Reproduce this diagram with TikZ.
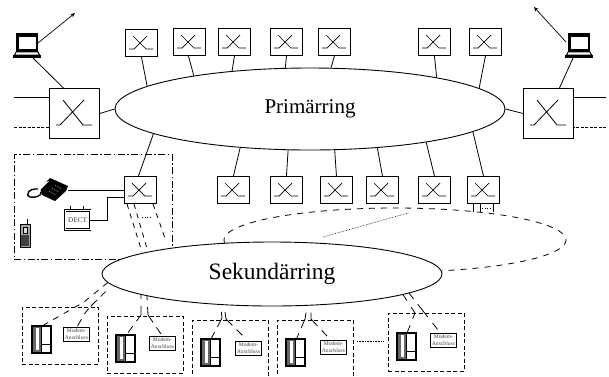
\documentclass[tikz,border=0pt]{standalone}
\usepackage{fontspec}
\setmainfont{Liberation Serif}
\usetikzlibrary{shapes.geometric,arrows.meta}
\tikzset{x=1pt,y=-1pt,
 ring/.style={draw,ellipse,fill=white,line width=0.9pt,inner sep=0pt,minimum width=#1},
 swbox/.style={draw,line width=0.9pt,minimum width=32pt,minimum height=27pt,inner sep=0pt,anchor=north west},
 bigbox/.style={draw,line width=0.9pt,minimum width=50pt,minimum height=50pt,inner sep=0pt,anchor=north west},
 glyph/.style={line width=0.7pt},
 link/.style={line width=0.8pt},
 dlink/.style={line width=0.8pt,dash pattern=on 5pt off 5pt},
 droplink/.style={line width=0.8pt,dash pattern=on 0pt off 7pt on 16pt off 6pt on 8pt off 40pt},
 droplinkb/.style={line width=0.8pt,dash pattern=on 4pt off 7pt on 17pt off 6pt on 8pt off 40pt},
 groupbox/.style={draw,line width=0.8pt,dash pattern=on 4pt off 2.5pt,minimum width=76pt,inner sep=0pt,anchor=north west},
 modembox/.style={draw,line width=0.9pt,inner sep=0pt,minimum width=26pt,minimum height=14pt,anchor=north west,align=center,font=\fontsize{5.6}{6.8}\selectfont,text=black!75},
 arr/.style={line width=0.7pt,-{Stealth[length=4.5pt,width=4pt]}}
}
\newcommand{\smallsw}[3]{\node[swbox] (#1) at (#2,#3) {};
 \draw[glyph] ([shift={(4,20)}]#1.north west) -- ([shift={(9,20)}]#1.north west) -- ([shift={(22,7)}]#1.north west);
 \draw[glyph] ([shift={(8,7)}]#1.north west) -- ([shift={(21,20)}]#1.north west) -- ([shift={(28,20)}]#1.north west);}
\newcommand{\bigsw}[3]{\node[bigbox] (#1) at (#2,#3) {};
 \draw[glyph,line width=0.8pt] ([shift={(7,37)}]#1.north west) -- ([shift={(11,37)}]#1.north west) -- ([shift={(35,12)}]#1.north west);
 \draw[glyph,line width=0.8pt] ([shift={(14,12)}]#1.north west) -- ([shift={(34,37)}]#1.north west) -- ([shift={(43,37)}]#1.north west);}
\newcommand{\laptop}[3]{\begin{scope}[shift={(#2,#3)}]
 \fill (3,0) rectangle (25,20);
 \fill[white] (5.5,4) rectangle (22.5,16);
 \draw[line width=0.9pt,fill=white] (3,19) -- (1.5,22) -- (26.5,22) -- (25,19) -- cycle;
 \fill (0,22) rectangle (28,25);
 \end{scope}}
\newcommand{\wallset}[3]{\begin{scope}[shift={(#2,#3)}]
 \coordinate (#1) at (0,0);
 \fill[black!60] (0,0) rectangle (9,27);
 \fill[white] (3.5,2) rectangle (7,24);
 \draw[line width=1.1pt] (0,0) rectangle (19,27);
 \draw[line width=0.9pt] (9.5,0) -- (9.5,27);
 \draw[line width=1.2pt] (9.5,18.5) -- (19,18.5);
 \end{scope}}
\begin{document}
\begin{tikzpicture}
\useasboundingbox (0,0) rectangle (609,376);
% primary ring
\node[ring=390pt,minimum height=82pt] (prim) at (310,109) {\raisebox{-2pt}{\fontsize{21}{23}\selectfont Primärring}};
% top switches
\smallsw{ta}{125}{29}
\smallsw{tb}{173}{28}
\smallsw{tc}{218}{28}
\smallsw{td}{270}{28}
\smallsw{te}{318}{28}
\smallsw{tf}{418}{28}
\smallsw{tg}{469}{28}
\draw[link] (ta.south) -- (prim.172.3);
\draw[link] ([xshift=-1pt]tb.south) -- (prim.164.7);
\draw[link] (tc.south) -- (prim.154.3);
\draw[link] (td.south) -- (prim.121.6);
\draw[link] (te.south) -- (prim.63.9);
\draw[link] (tf.south) -- (prim.14.7);
\draw[link] (tg.south) -- (prim.7.6);
% bottom switches
\smallsw{ba}{217}{176}
\smallsw{bb}{270}{176}
\smallsw{bc}{320}{176}
\smallsw{bd}{366}{176}
\smallsw{be}{418}{176}
\smallsw{bf}{467}{176}
\draw[link] (ba.north) -- (prim.209);
\draw[link] (bb.north) -- (prim.242.8);
\draw[link] (bc.north) -- (prim.301.6);
\draw[link] (bd.north) -- (prim.330.5);
\draw[link] (be.north) -- (prim.344.9);
\draw[link] (bf.north) -- (prim.352);
% big switches
\bigsw{bl}{49}{88}
\bigsw{br}{523}{88}
\draw[link] (bl.east) -- (prim.west);
\draw[link] (br.west) -- (prim.east);
\coordinate (lt) at (14,97); \coordinate (ld) at (14,127);
\coordinate (rt) at (606,97); \coordinate (rd) at (606,127);
\draw[link] (lt) -- (lt-|bl.west);
\draw[link,dash pattern=on 3pt off 1.5pt] (ld) -- (ld-|bl.west);
\draw[link] (rt) -- (rt-|br.east);
\draw[link,dash pattern=on 3pt off 1.5pt] (rd) -- (rd-|br.east);
% laptops
\laptop{lapl}{13}{33}
\laptop{lapr}{565}{33}
\coordinate (lapla) at (38,43); \coordinate (laplb) at (33,58);
\coordinate (laptipl) at (75,13);
\coordinate (laprb) at (573,58); \coordinate (lapra) at (566,42);
\coordinate (laptipr) at (534,7);
\draw[arr] (lapla) -- (laptipl);
\draw[arr] (lapra) -- (laptipr);
\draw[link] (laplb) -- ([xshift=-11pt]bl.north);
\draw[link] (laprb) -- ([xshift=11pt]br.north);
% access group
\smallsw{sw}{124}{176}
\node[draw,line width=0.8pt,dash pattern=on 7pt off 2.5pt on 1.5pt off 2.5pt,minimum width=158pt,minimum height=105pt,inner sep=0pt,anchor=north west] (grp) at (14,154) {};
\draw[link] ([xshift=-2pt]sw.north) -- (prim.189.1);
% DECT
\node[draw,double,double distance=0.8pt,line width=0.7pt,minimum width=25pt,minimum height=19pt,inner sep=0pt,font=\fontsize{7.2}{8}\selectfont,text=black!75] (dect) at (77.5,220) {DECT};
\draw[line width=0.5pt] (70,206) -- (70,210) (83,206) -- (83,210);
\coordinate (sw1) at (124,190); \coordinate (sw2) at (124,197);
\draw[link] (dect.east) -| (107,197) -- (sw2);
% telephone
\coordinate (tel) at (68,190);
\draw[link] (tel) -- (sw1);
\begin{scope}
 \fill (40,188) -- (50,178) -- (68,186) -- (66,191) -- (55,201) -- (42,195) -- cycle;
 \fill[white] (46,182) -- (49,181) -- (40,190) -- (38,189) -- cycle;
 \draw[line width=1.4pt] (38,189) .. controls (28,188) and (25,196) .. (30,197) .. controls (35,198) and (42,196) .. (41,192);
 \foreach \i in {0,1,2}{\draw[white,line width=0.35pt,dash pattern=on 1pt off 1pt] (49+\i*3,191-\i*3) -- (56+\i*3,195-\i*3);}
\end{scope}
% mobile
\draw[line width=0.7pt] (27,219) -- (27,224);
\draw[line width=0.9pt,fill=black!35] (20,224) rectangle (30,247);
\draw[line width=0.6pt,fill=black!15] (23,227) rectangle (27,233);
\fill[black!75] (21,235) rectangle (29,246);
% secondary links
\draw[dlink] ([shift={(3,0)}]sw.south west) -- (142,252);
\draw[dlink] ([shift={(10,0)}]sw.south west) -- (148,252);
\draw[dlink] ([shift={(29,0)}]sw.south west) -- (166,241);
\coordinate (dotsa) at (142,217); \coordinate (dotsb) at (151,217);
\draw[line width=0.6pt,dotted] (dotsa) -- (dotsb);
% dashed ellipse
\draw[line width=0.8pt,dash pattern=on 6pt off 6pt] plot[domain=186:-74,samples=90,smooth] ({395+171*cos(\x)},{240-32*sin(\x)});
% secondary ring
\node[ring=340pt,minimum height=64pt] (sek) at (272,274) {\raisebox{1pt}{\fontsize{23.5}{25}\selectfont Sekundärring}};
\coordinate (doa) at (323,237); \coordinate (dob) at (408,213);
\draw[line width=0.6pt,densely dotted] (doa) -- (dob);
\draw[link] ([xshift=6pt]bf.south west) -- ++(0,8);
\draw[link] ([xshift=13pt]bf.south west) -- ++(0,8);
\draw[link] ([xshift=26pt]bf.south west) -- ++(0,8);
\coordinate (dotsc) at (482,208); \coordinate (dotsd) at (490,208);
\draw[line width=0.6pt,dotted] (dotsc) -- (dotsd);
% group boxes
\node[groupbox,minimum height=57pt] (ga) at (22,307) {};
\node[groupbox,minimum height=57pt] (gb) at (107,316) {};
\node[groupbox,minimum height=58pt] (gc) at (192,320) {};
\node[groupbox,minimum height=58pt] (gd) at (277,320) {};
\node[groupbox,minimum height=58pt] (ge) at (388,313) {};
\coordinate (gdots) at (357,341);
\draw[line width=0.6pt,densely dotted] (gdots) -- (383,341);
% devices
\wallset{pa}{32}{326} \node[modembox] (ma) at (63,327) {Modem-\\Anschluss};
\wallset{pb}{116}{335} \node[modembox] (mb) at (149,336) {Modem-\\Anschluss};
\wallset{pc}{201}{339} \node[modembox] (mc) at (235,341) {Modem-\\Anschluss};
\wallset{pd}{286}{339} \node[modembox] (md) at (320,340) {Modem-\\Anschluss};
\wallset{pe}{397}{333} \node[modembox] (me) at (430,333) {Modem-\\Anschluss};
% drop links
\draw[line width=0.8pt,dash pattern=on 6pt off 6pt] (sek.183) -- (84,302) -- ([shift={(10,0)}]pa);
\draw[line width=0.8pt,dash pattern=on 0pt off 9pt on 7pt off 5pt on 9pt off 3pt on 7pt off 6pt on 8pt off 40pt] (sek.184.7) -- (90,307) -- (85,313) -- ([shift={(14,0)}]ma.north west);
\draw[droplinkb] (sek.189.75) -- (141,315) -- ([shift={(11,-1)}]pb);
\draw[droplinkb] (sek.190.7) -- (148,315) -- ([shift={(12,-2)}]mb.north west);
\draw[droplink] (sek.211.8) -- (222,318) -- ([shift={(10,0)}]pc);
\draw[droplink] (sek.213.4) -- (226,319) -- ([shift={(8,-5)}]mc.north west);
\draw[droplink] (sek.-42.8) -- (305,319) -- ([shift={(10,1)}]pd);
\draw[droplink] (sek.-39) -- (311,319) -- ([shift={(7,-4)}]md.north west);
\draw[line width=0.8pt,dash pattern=on 7pt off 8pt on 13pt off 7pt on 8pt off 40pt] (sek.-9) -- (415,313) -- ([shift={(10,0)}]pe);
\draw[line width=0.8pt,dash pattern=on 7pt off 7pt on 16pt off 8pt on 8pt off 40pt] (sek.-8.3) -- ([shift={(8,-3)}]me.north west);
\end{tikzpicture}
\end{document}
